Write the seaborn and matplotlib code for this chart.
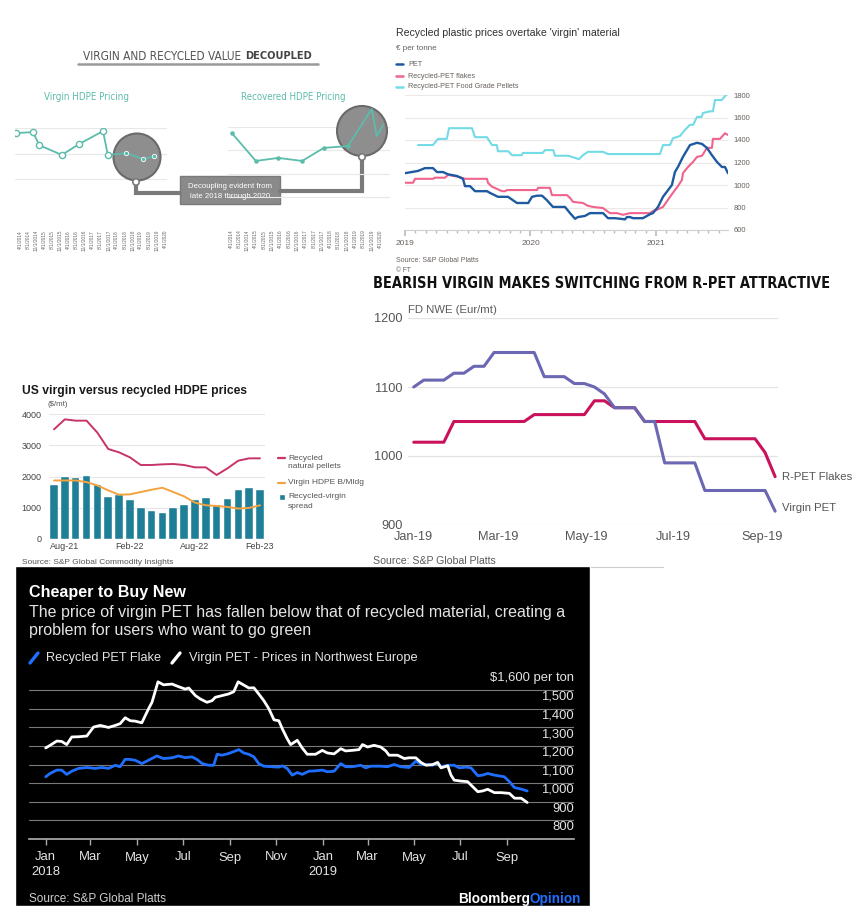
import numpy as np
import pandas as pd
import matplotlib.pyplot as plt
import matplotlib.patches as mpatches
from matplotlib import font_manager as fm
import seaborn as sns

sns.set_theme(style='white')
plt.rcParams['font.family'] = ['Liberation Sans', 'DejaVu Sans']

W, H = 854, 906

# ---------------- data ----------------
# panel 1: virgin vs recovered HDPE (relative units, read off the gridlines)
hdpe_dates = ['4/1/2014', '8/1/2014', '12/1/2014', '4/1/2015', '8/1/2015', '12/1/2015',
              '4/1/2016', '8/1/2016', '12/1/2016', '4/1/2017', '8/1/2017', '12/1/2017',
              '4/1/2018', '8/1/2018', '12/1/2018', '4/1/2019', '8/1/2019', '12/1/2019',
              '4/1/2020']
virgin_hdpe_pos = [-0.5, 1.6, 2.4, 5.2, 7.3, 10.3, 10.9, 13.2, 15.3, 16.6]
virgin_hdpe = [2.80, 2.84, 2.33, 1.95, 2.37, 2.88, 1.95, 2.02, 1.79, 1.90]
recovered_hdpe_pos = [0.1, 3.0, 5.7, 8.6, 11.2, 14.1, 17.0, 17.6, 18.4]
recovered_hdpe = [3.74, 2.54, 2.67, 2.54, 3.10, 3.18, 4.77, 3.61, 4.09]

# panel 2: FT, EUR per tonne, x in decimal years
food_years = [2019.104, 2019.223, 2019.263, 2019.333, 2019.351, 2019.534, 2019.558, 2019.653,
              2019.693, 2019.731, 2019.741, 2019.823, 2019.853, 2019.930, 2019.940, 2020.097,
              2020.116, 2020.182, 2020.195, 2020.301, 2020.386, 2020.418, 2020.458, 2020.578,
              2020.618, 2021.032, 2021.056, 2021.112, 2021.135, 2021.191, 2021.231, 2021.271,
              2021.296, 2021.327, 2021.363, 2021.375, 2021.430, 2021.454, 2021.470, 2021.524,
              2021.566]
food_pellets = [1355, 1355, 1410, 1410, 1505, 1505, 1425, 1425, 1355, 1355, 1300, 1300, 1265,
                1265, 1285, 1285, 1310, 1310, 1260, 1260, 1230, 1265, 1295, 1295, 1275, 1275,
                1355, 1355, 1415, 1435, 1490, 1535, 1535, 1605, 1605, 1640, 1655, 1655, 1755,
                1755, 1810]
pet_years = [2019.0, 2019.104, 2019.159, 2019.223, 2019.255, 2019.303, 2019.343, 2019.414,
             2019.462, 2019.478, 2019.518, 2019.558, 2019.653, 2019.677, 2019.741, 2019.821,
             2019.892, 2019.982, 2020.012, 2020.052, 2020.092, 2020.131, 2020.179, 2020.275,
             2020.315, 2020.355, 2020.378, 2020.434, 2020.474, 2020.578, 2020.618, 2020.673,
             2020.753, 2020.769, 2020.793, 2020.817, 2020.896, 2020.952, 2020.976, 2021.016,
             2021.056, 2021.127, 2021.151, 2021.175, 2021.215, 2021.271, 2021.327, 2021.367,
             2021.406, 2021.446, 2021.486, 2021.526, 2021.550, 2021.574]
pet = [1105, 1125, 1150, 1150, 1115, 1115, 1095, 1080, 1055, 990, 990, 945, 945, 930, 895, 895,
       840, 840, 895, 905, 905, 865, 805, 805, 750, 700, 715, 725, 750, 750, 705, 705, 695, 715,
       715, 705, 705, 740, 750, 805, 895, 1000, 1115, 1160, 1250, 1355, 1375, 1365, 1330, 1265,
       1205, 1160, 1160, 1105]
flake_years = [2019.0, 2019.064, 2019.080, 2019.223, 2019.239, 2019.319, 2019.343, 2019.438,
               2019.478, 2019.653, 2019.661, 2019.693, 2019.773, 2019.797, 2019.813, 2020.052,
               2020.060, 2020.155, 2020.171, 2020.291, 2020.315, 2020.339, 2020.418, 2020.458,
               2020.498, 2020.578, 2020.633, 2020.689, 2020.737, 2020.793, 2020.952, 2020.976,
               2021.008, 2021.056, 2021.112, 2021.151, 2021.175, 2021.207, 2021.215, 2021.255,
               2021.295, 2021.327, 2021.367, 2021.406, 2021.446, 2021.454, 2021.510, 2021.550,
               2021.574]
pet_flakes = [1020, 1020, 1055, 1055, 1065, 1065, 1090, 1070, 1055, 1055, 1020, 985, 945, 945,
              955, 955, 975, 975, 910, 910, 885, 850, 840, 815, 805, 795, 750, 750, 735, 750,
              750, 770, 780, 805, 895, 955, 990, 1045, 1105, 1160, 1205, 1250, 1260, 1330, 1330,
              1410, 1410, 1460, 1445]

# panel 3: weekly FD NWE, Eur/mt, from 1 Jan 2019
nwe_weeks = pd.date_range('2019-01-01', periods=37, freq='7D')
virgin_pet = [1100, 1110, 1110, 1110, 1120, 1120, 1130, 1130, 1150, 1150, 1150, 1150, 1150,
              1115, 1115, 1115, 1105, 1105, 1100, 1090, 1070, 1070, 1070, 1050, 1050, 990, 990,
              990, 990, 950, 950, 950, 950, 950, 950, 950, 920]
rpet_flakes = [1020, 1020, 1020, 1020, 1050, 1050, 1050, 1050, 1050, 1050, 1050, 1050, 1060,
               1060, 1060, 1060, 1060, 1060, 1080, 1080, 1070, 1070, 1070, 1050, 1050, 1050,
               1050, 1050, 1050, 1025, 1025, 1025, 1025, 1025, 1025, 1005, 970]

# panel 4: US HDPE, $/mt, monthly Jul-21 .. Feb-23
us_months = ['Jul-21', 'Aug-21', 'Sep-21', 'Oct-21', 'Nov-21', 'Dec-21', 'Jan-22', 'Feb-22',
             'Mar-22', 'Apr-22', 'May-22', 'Jun-22', 'Jul-22', 'Aug-22', 'Sep-22', 'Oct-22',
             'Nov-22', 'Dec-22', 'Jan-23', 'Feb-23']
spread = [1714, 2000, 1958, 2032, 1714, 1344, 1418, 1259, 995, 889, 836, 995, 1100, 1259, 1312,
          1079, 1291, 1577, 1640, 1556]
recycled_pellets = [3509, 3829, 3787, 3787, 3403, 2880, 2773, 2613, 2368, 2368, 2389, 2400,
                    2368, 2293, 2293, 2048, 2261, 2507, 2581, 2581]
virgin_bm = [1873, 1873, 1873, 1820, 1714, 1556, 1418, 1429, 1503, 1577, 1640, 1503, 1365,
             1164, 1079, 1058, 1026, 973, 995, 1079]
us_tick_labels = ['Aug-21', 'Feb-22', 'Aug-22', 'Feb-23']

# panel 5: Bloomberg, $ per ton, x in months since 1 Jan 2018
virgin_months = [0.00, 0.19, 0.48, 0.69, 0.91, 1.13, 1.42, 1.78, 2.07, 2.36, 2.72, 3.01, 3.22,
                 3.44, 3.66, 3.87, 4.16, 4.45, 4.60, 4.86, 5.10, 5.47, 5.75, 6.04, 6.19, 6.48,
                 6.69, 6.98, 7.20, 7.34, 7.63, 7.92, 8.14, 8.33, 8.57, 8.79, 9.01, 9.22, 9.44,
                 9.66, 9.88, 10.09, 10.24, 10.45, 10.60, 10.89, 11.10, 11.32, 11.68, 11.97,
                 12.19, 12.48, 12.77, 12.98, 13.27, 13.56, 13.71, 13.93, 14.21, 14.50, 14.72,
                 14.86, 15.23, 15.52, 15.73, 16.02, 16.24, 16.46, 16.75, 16.96, 17.11, 17.40,
                 17.54, 17.68, 17.97, 18.26, 18.48, 18.70, 18.91, 19.13, 19.42, 19.71, 20.07,
                 20.29, 20.58, 20.84]
virgin_nwe = [1289, 1303, 1326, 1324, 1307, 1348, 1349, 1353, 1401, 1410, 1399, 1410, 1419,
              1451, 1435, 1433, 1424, 1499, 1534, 1644, 1628, 1632, 1618, 1605, 1611, 1570,
              1552, 1534, 1543, 1561, 1570, 1579, 1591, 1644, 1627, 1611, 1612, 1579, 1543,
              1499, 1440, 1435, 1392, 1339, 1307, 1330, 1289, 1255, 1255, 1276, 1262, 1257,
              1285, 1273, 1276, 1280, 1307, 1294, 1303, 1294, 1273, 1250, 1250, 1232, 1236,
              1236, 1211, 1196, 1200, 1211, 1182, 1193, 1143, 1116, 1111, 1108, 1081, 1054,
              1058, 1067, 1049, 1049, 1045, 1019, 1019, 996]
flake_months = [0.00, 0.19, 0.48, 0.69, 0.91, 1.13, 1.42, 1.78, 2.14, 2.43, 2.72, 3.01, 3.22,
                3.44, 3.66, 3.87, 4.16, 4.45, 4.81, 5.10, 5.47, 5.75, 6.04, 6.33, 6.55, 6.77,
                7.06, 7.27, 7.42, 7.63, 7.92, 8.36, 8.57, 8.79, 9.01, 9.22, 9.44, 9.80, 10.09,
                10.24, 10.45, 10.67, 10.89, 11.10, 11.39, 11.68, 11.97, 12.19, 12.48, 12.77,
                12.98, 13.27, 13.64, 13.85, 14.07, 14.50, 14.79, 15.08, 15.37, 15.73, 16.02,
                16.24, 16.46, 16.75, 16.96, 17.11, 17.40, 17.68, 17.90, 18.19, 18.41, 18.70,
                18.91, 19.13, 19.42, 19.85, 20.07, 20.29, 20.58, 20.84]
flake_nwe = [1134, 1152, 1170, 1170, 1147, 1164, 1179, 1184, 1179, 1184, 1179, 1196, 1188,
             1228, 1227, 1223, 1205, 1223, 1246, 1232, 1236, 1246, 1237, 1241, 1227, 1205,
             1196, 1196, 1255, 1250, 1259, 1280, 1262, 1255, 1241, 1205, 1191, 1188, 1186,
             1193, 1179, 1143, 1157, 1147, 1164, 1166, 1170, 1161, 1164, 1205, 1188, 1188,
             1196, 1182, 1191, 1191, 1188, 1200, 1188, 1184, 1218, 1202, 1200, 1196, 1211,
             1188, 1196, 1196, 1182, 1186, 1182, 1140, 1143, 1152, 1143, 1134, 1108, 1076,
             1068, 1058]
bb_tick_labels = ['Jan\n2018', 'Mar', 'May', 'Jul', 'Sep', 'Nov', 'Jan\n2019', 'Mar', 'May',
                  'Jul', 'Sep']


def px_box(x0, y0, x1, y1):
    """pixel box (top-left origin) -> figure fraction rect"""
    return [x0 / W, 1 - y1 / H, (x1 - x0) / W, (y1 - y0) / H]


def narrow_font(bold):
    """look for an installed condensed / narrow sans face, else Liberation Sans"""
    picks = []
    for f in fm.fontManager.ttflist:
        nm = f.name.lower() + ' ' + f.fname.lower()
        if not (str(f.stretch) in ('condensed', 'semi-condensed', 'extra-condensed')
                or 'condensed' in nm or 'narrow' in nm):
            continue
        if 'mono' in nm or 'serif' in f.name.lower() or f.style != 'normal':
            continue
        wt = f.weight if isinstance(f.weight, int) else fm.weight_dict.get(f.weight, 400)
        if (wt >= 700) == bold and wt <= 800:
            picks.append(f.fname)
    if picks:
        return fm.FontProperties(fname=sorted(picks)[0])
    return fm.FontProperties(family='Liberation Sans', weight='bold' if bold else 'normal')


NARROW_REG = narrow_font(False)
NARROW_BOLD = narrow_font(True)

fig = plt.figure(figsize=(W / 100, H / 100), dpi=100)
fig.patch.set_facecolor('white')

# full-figure overlay in pixel units for titles, notes and decorations
bg = fig.add_axes([0, 0, 1, 1], zorder=0)
bg.set_xlim(0, W)
bg.set_ylim(H, 0)
bg.axis('off')

fit_list = []


def txt(x, y, s, width=None, **kw):
    kw.setdefault('va', 'center')
    t = bg.text(x, y, s, **kw)
    if width:
        fit_list.append((t, width))
    return t


# ---------------- panel 1: HDPE decoupled ----------------
teal = '#5cbcab'
grey_conn = '#7a7a7a'
txt(241, 56, 'VIRGIN AND RECYCLED VALUE', width=159, ha='right', fontsize=10.5,
    color='#555555', fontproperties=NARROW_REG)
txt(245, 56, 'DECOUPLED', width=67, ha='left', fontsize=10.5, color='#444444',
    fontproperties=NARROW_BOLD)
bg.plot([78, 318], [64, 64], color='#9a9a9a', lw=1.8)
txt(87, 97, 'Virgin HDPE Pricing', width=84, ha='center', fontsize=7.5, color=teal,
    fontproperties=NARROW_REG)
txt(293, 97, 'Recovered HDPE Pricing', width=104, ha='center', fontsize=7.5, color=teal,
    fontproperties=NARROW_REG)

bg.plot([136, 136, 180], [182, 193, 193], color=grey_conn, lw=3, solid_joinstyle='miter')
bg.plot([280, 362, 362], [191, 191, 158], color=grey_conn, lw=3, solid_joinstyle='miter')
bg.add_patch(mpatches.Rectangle((180, 176), 100, 28, facecolor='#8a8a8a',
                                edgecolor='#7a7a7a', lw=1))
txt(230, 187, 'Decoupling evident from', ha='center', fontsize=5.6, color='white')
txt(230, 197, 'late 2018 through 2020', ha='center', fontsize=5.6, color='white')

ax1 = fig.add_axes(px_box(15, 128, 167, 205), facecolor='none', zorder=1)
ax1.add_patch(mpatches.Circle((137, 157), 23.5, transform=bg.transData, facecolor='#8e8e8e',
                              edgecolor='#6a6a6a', lw=1.5, clip_on=False, zorder=1.5))
ax1.add_patch(mpatches.Circle((136, 182), 3.2, transform=bg.transData, facecolor='white',
                              edgecolor=grey_conn, lw=1.2, clip_on=False, zorder=1.6))
sns.lineplot(x=virgin_hdpe_pos, y=virgin_hdpe, color=teal, lw=1.3, ax=ax1, zorder=3)
sns.scatterplot(x=virgin_hdpe_pos[:7], y=virgin_hdpe[:7], s=20, color='white',
                edgecolor=teal, linewidth=1.0, ax=ax1, zorder=4)
sns.scatterplot(x=virgin_hdpe_pos[7:], y=virgin_hdpe[7:], s=10, color=teal,
                edgecolor='white', linewidth=0.6, ax=ax1, zorder=4)
ax1.set_xlim(-0.62, 18.24)
ax1.set_ylim(0, 3)

ax1b = fig.add_axes(px_box(228, 127, 390, 220), facecolor='none', zorder=1)
ax1b.add_patch(mpatches.Circle((362, 131), 25, transform=bg.transData, facecolor='#8e8e8e',
                               edgecolor='#6a6a6a', lw=1.5, clip_on=False, zorder=1.5))
ax1b.add_patch(mpatches.Circle((362, 157), 3.2, transform=bg.transData, facecolor='white',
                               edgecolor=grey_conn, lw=1.2, clip_on=False, zorder=1.6))
sns.lineplot(x=recovered_hdpe_pos, y=recovered_hdpe, color=teal, lw=1.3, ax=ax1b, zorder=3)
ax1b.lines[-1].set_clip_on(False)
sns.scatterplot(x=recovered_hdpe_pos[:6], y=recovered_hdpe[:6], s=9, color=teal,
                edgecolor=teal, ax=ax1b, zorder=4)
ax1b.set_xlim(-0.36, 19.2)
ax1b.set_ylim(0, 4)

for ax, pad in [(ax1, 18), (ax1b, 7)]:
    ax.set_yticks(range(int(ax.get_ylim()[1]) + 1))
    ax.set_yticklabels([])
    ax.set_xticks(range(len(hdpe_dates)))
    ax.set_xticklabels(hdpe_dates, rotation=90, fontsize=3.4, color='#666666')
    ax.tick_params(length=0)
    ax.tick_params(axis='x', pad=pad)
    ax.grid(axis='y', color='#e8e8e8', lw=0.8)
    ax.grid(axis='x', visible=False)
    sns.despine(ax=ax, left=True, bottom=True)

# ---------------- panel 2: FT ----------------
ft_grey = '#66605c'
ft_blue, ft_pink, ft_cyan = '#1e5aa0', '#f0648c', '#72dbe6'
txt(396, 33, "Recycled plastic prices overtake 'virgin' material", width=221, ha='left',
    fontsize=7, color='#33302e')
txt(396, 49, '€ per tonne', ha='left', fontsize=5.8, color=ft_grey)
for yy, col, lab in [(64, ft_blue, 'PET'), (76, ft_pink, 'Recycled-PET flakes'),
                     (87, ft_cyan, 'Recycled-PET Food Grade Pellets')]:
    bg.plot([396, 403], [yy, yy], color=col, lw=1.8)
    txt(408, yy, lab, ha='left', fontsize=5.2, color=ft_grey)
txt(396, 261, 'Source: S&P Global Platts', ha='left', fontsize=5, color=ft_grey)
txt(396, 270, '© FT', ha='left', fontsize=4.8, color=ft_grey)

ax2 = fig.add_axes(px_box(405, 95, 728, 230), facecolor='none', zorder=1)
sns.lineplot(x=food_years, y=food_pellets, color=ft_cyan, lw=1.5, ax=ax2)
sns.lineplot(x=flake_years, y=pet_flakes, color=ft_pink, lw=1.5, ax=ax2)
sns.lineplot(x=pet_years, y=pet, color=ft_blue, lw=1.7, ax=ax2)
ax2.set_xlim(2019, 2021.574)
ax2.set_ylim(600, 1800)
ax2.yaxis.tick_right()
ax2.set_yticks(range(600, 1801, 200))
ax2.set_xticks([2019, 2020, 2021])
ax2.set_xticklabels(['2019', '2020', '2021'])
ax2.set_xticks(np.arange(2019, 2021.58, 1 / 12), minor=True)
ax2.tick_params(axis='y', length=0, pad=4, labelsize=5.5, labelcolor=ft_grey)
ax2.tick_params(axis='x', which='both', direction='out', bottom=True, color='#bdbdbd',
                labelsize=6, labelcolor=ft_grey, pad=3)
ax2.tick_params(axis='x', which='major', length=4)
ax2.tick_params(axis='x', which='minor', length=2.5)
ax2.grid(axis='y', color='#ebe8e5', lw=0.8)
sns.despine(ax=ax2, left=True, right=True, top=True)
ax2.spines['bottom'].set_color('#d0d0d0')
ax2.spines['bottom'].set_linewidth(0.8)

# ---------------- panel 3: bearish virgin ----------------
txt(373, 283, 'BEARISH VIRGIN MAKES SWITCHING FROM R-PET ATTRACTIVE', width=454, ha='left',
    fontsize=12.5, color='#111111', fontproperties=NARROW_BOLD)
txt(408, 310, 'FD NWE (Eur/mt)', ha='left', fontsize=8.2, color='#5a5a5a')
txt(373, 561, 'Source: S&P Global Platts', ha='left', fontsize=7.6, color='#5a5a5a', zorder=1)
bg.plot([365, 663], [567, 567], color='#cccccc', lw=0.8, zorder=1)

ax3 = fig.add_axes(px_box(408, 318, 778, 525), facecolor='none', zorder=1)
purple, magenta = '#6c67b3', '#c9125b'
sns.lineplot(x=nwe_weeks, y=rpet_flakes, color=magenta, lw=2.2, ax=ax3)
sns.lineplot(x=nwe_weeks, y=virgin_pet, color=purple, lw=2.2, ax=ax3)
ax3.set_xlim(pd.Timestamp('2018-12-28'), pd.Timestamp('2019-09-12'))
ax3.set_ylim(900, 1200)
ax3.set_yticks([900, 1000, 1100, 1200])
ax3.set_xticks(pd.to_datetime(['2019-01-01', '2019-03-01', '2019-05-01', '2019-07-01',
                               '2019-09-01']))
ax3.set_xticklabels(['Jan-19', 'Mar-19', 'May-19', 'Jul-19', 'Sep-19'])
ax3.tick_params(length=0, labelsize=9.2, labelcolor='#555555')
ax3.tick_params(axis='x', pad=4)
ax3.tick_params(axis='y', pad=4)
ax3.grid(axis='y', color='#e3e3e3', lw=0.9)
sns.despine(ax=ax3, left=True, bottom=True)
ax3.annotate('R-PET Flakes', xy=(nwe_weeks[-1], rpet_flakes[-1]), xytext=(5, 0),
             textcoords='offset points', va='center', fontsize=8.2, color='#555555')
ax3.annotate('Virgin PET', xy=(nwe_weeks[-1], virgin_pet[-1]), xytext=(5, 2),
             textcoords='offset points', va='center', fontsize=8.2, color='#555555')

# ---------------- panel 4: US HDPE ----------------
us_teal, us_pink, us_orange = '#1f7f96', '#c8336a', '#f4a340'
txt(22, 391, 'US virgin versus recycled HDPE prices', width=225, ha='left', fontsize=8.3,
    fontweight='bold', color='#1a1a1a')
txt(48, 405, '($/mt)', ha='left', fontsize=5.6, color='#555555')
txt(22, 562, 'Source: S&P Global Commodity Insights', width=150, ha='left', fontsize=5.8,
    color='#555555', zorder=1)
bg.plot([278, 285], [458, 458], color=us_pink, lw=1.6)
txt(288, 458, 'Recycled', ha='left', fontsize=6, color='#555555')
txt(288, 467, 'natural pellets', ha='left', fontsize=6, color='#555555')
bg.plot([278, 285], [483, 483], color=us_orange, lw=1.6)
txt(288, 483, 'Virgin HDPE B/Mldg', ha='left', fontsize=6, color='#555555')
bg.add_patch(mpatches.Rectangle((279, 494), 6, 6, facecolor=us_teal))
txt(288, 497, 'Recycled-virgin', ha='left', fontsize=6, color='#555555')
txt(288, 507, 'spread', ha='left', fontsize=6, color='#555555')

ax4 = fig.add_axes(px_box(48.6, 414, 265.4, 539), facecolor='none', zorder=1)
sns.barplot(x=us_months, y=spread, color=us_teal, saturation=1, width=0.7,
            edgecolor='white', linewidth=0.3, errorbar=None, ax=ax4)
sns.lineplot(x=range(len(us_months)), y=recycled_pellets, color=us_pink, lw=1.4, ax=ax4)
sns.lineplot(x=range(len(us_months)), y=virgin_bm, color=us_orange, lw=1.4, ax=ax4)
ax4.set_xlim(-0.5, len(us_months) - 0.5)
ax4.set_ylim(0, 4000)
ax4.set_yticks(range(0, 4001, 1000))
ax4.set_xticks([1, 7, 13, 19])
ax4.set_xticklabels(us_tick_labels)
ax4.tick_params(length=0, labelsize=6.5, labelcolor='#444444')
ax4.tick_params(axis='x', pad=2)
ax4.tick_params(axis='y', pad=5)
ax4.grid(axis='y', color='#e6e6e6', lw=0.8)
ax4.set_axisbelow(True)
sns.despine(ax=ax4, left=True, bottom=True)

# ---------------- panel 5: Bloomberg ----------------
bb_blue = '#1f6fff'
bb_text = '#e4e4e4'
bg.add_patch(mpatches.Rectangle((15, 566), 575, 340, facecolor='black', zorder=2))
txt(29, 592, 'Cheaper to Buy New', width=158, ha='left', fontsize=10.5, fontweight='bold',
    color='white', zorder=3)
txt(29, 612, 'The price of virgin PET has fallen below that of recycled material, creating a',
    width=541, ha='left', fontsize=9.6, color=bb_text, zorder=3)
t_sub2 = txt(29, 630, 'problem for users who want to go green', ha='left', fontsize=9.6,
             color=bb_text, zorder=3)
bg.plot([30, 38], [663, 653], color=bb_blue, lw=2.4, zorder=3)
txt(46, 658, 'Recycled PET Flake', width=115, ha='left', fontsize=8.4, color=bb_text,
    zorder=3)
bg.plot([172, 180], [663, 653], color='white', lw=2.4, zorder=3)
txt(189, 658, 'Virgin PET - Prices in Northwest Europe', width=228, ha='left', fontsize=8.4,
    color=bb_text, zorder=3)
txt(29, 899, 'Source: S&P Global Platts', width=139, ha='left', fontsize=7.8,
    color='#cfcfcf', zorder=3)
t_opinion = txt(581, 899, 'Opinion', ha='right', fontsize=9.8, fontweight='bold',
                color=bb_blue, zorder=3)
t_bloomberg = txt(531, 899, 'Bloomberg', ha='right', fontsize=9.8, fontweight='bold',
                  color='white', zorder=3)

start = pd.Timestamp('2018-01-01')
virgin_dates = start + pd.to_timedelta(np.array(virgin_months) * 30.44, unit='D')
flake_dates = start + pd.to_timedelta(np.array(flake_months) * 30.44, unit='D')

ax5 = fig.add_axes(px_box(29, 671.4, 574, 839), facecolor='none', zorder=1)
sns.lineplot(x=flake_dates, y=flake_nwe, color=bb_blue, lw=2.0, ax=ax5)
sns.lineplot(x=virgin_dates, y=virgin_nwe, color='white', lw=2.0, ax=ax5)
ax5.set_xlim(pd.Timestamp('2017-12-10'), pd.Timestamp('2019-11-28'))
ax5.set_ylim(800, 1700)
ax5.set_yticks(range(800, 1601, 100))
ax5.set_yticklabels([])
ax5.tick_params(axis='y', length=0)
ax5.set_xticks(pd.date_range('2018-01-01', '2019-09-01', freq='2MS'))
ax5.set_xticklabels(bb_tick_labels, linespacing=1.3)
ax5.tick_params(axis='x', direction='out', bottom=True, length=4, width=1, color='#aaaaaa',
                labelsize=9.4, labelcolor=bb_text, pad=5)
ax5.grid(axis='y', color='#7a7a7a', lw=0.8)
ax5.set_axisbelow(True)
sns.despine(ax=ax5, left=True)
ax5.spines['bottom'].set_color('#b0b0b0')
ax5.spines['bottom'].set_linewidth(1.2)
for v in range(800, 1601, 100):
    lab = '$1,600 per ton' if v == 1600 else f'{v:,}'
    ax5.annotate(lab, xy=(1, v), xycoords=ax5.get_yaxis_transform(), xytext=(0, 8.5),
                 textcoords='offset points', ha='right', va='center', fontsize=9.4,
                 color=bb_text)

for ax in (ax1, ax1b, ax2, ax3, ax4, ax5):
    ax.set_xlabel('')
    ax.set_ylabel('')

# scale the long titles so that they span the same width as in the reference
renderer = fig.canvas.get_renderer()
for t, width in fit_list:
    w = t.get_window_extent(renderer=renderer).width
    t.set_fontsize(t.get_fontsize() * width / w)
    if t.get_text().startswith('The price'):
        t_sub2.set_fontsize(t.get_fontsize())

# butt the two halves of the wordmark together
left_px = t_opinion.get_window_extent(renderer=renderer).x0
t_bloomberg.set_x(left_px)

fig.savefig('out.png', dpi=100, facecolor='white')
